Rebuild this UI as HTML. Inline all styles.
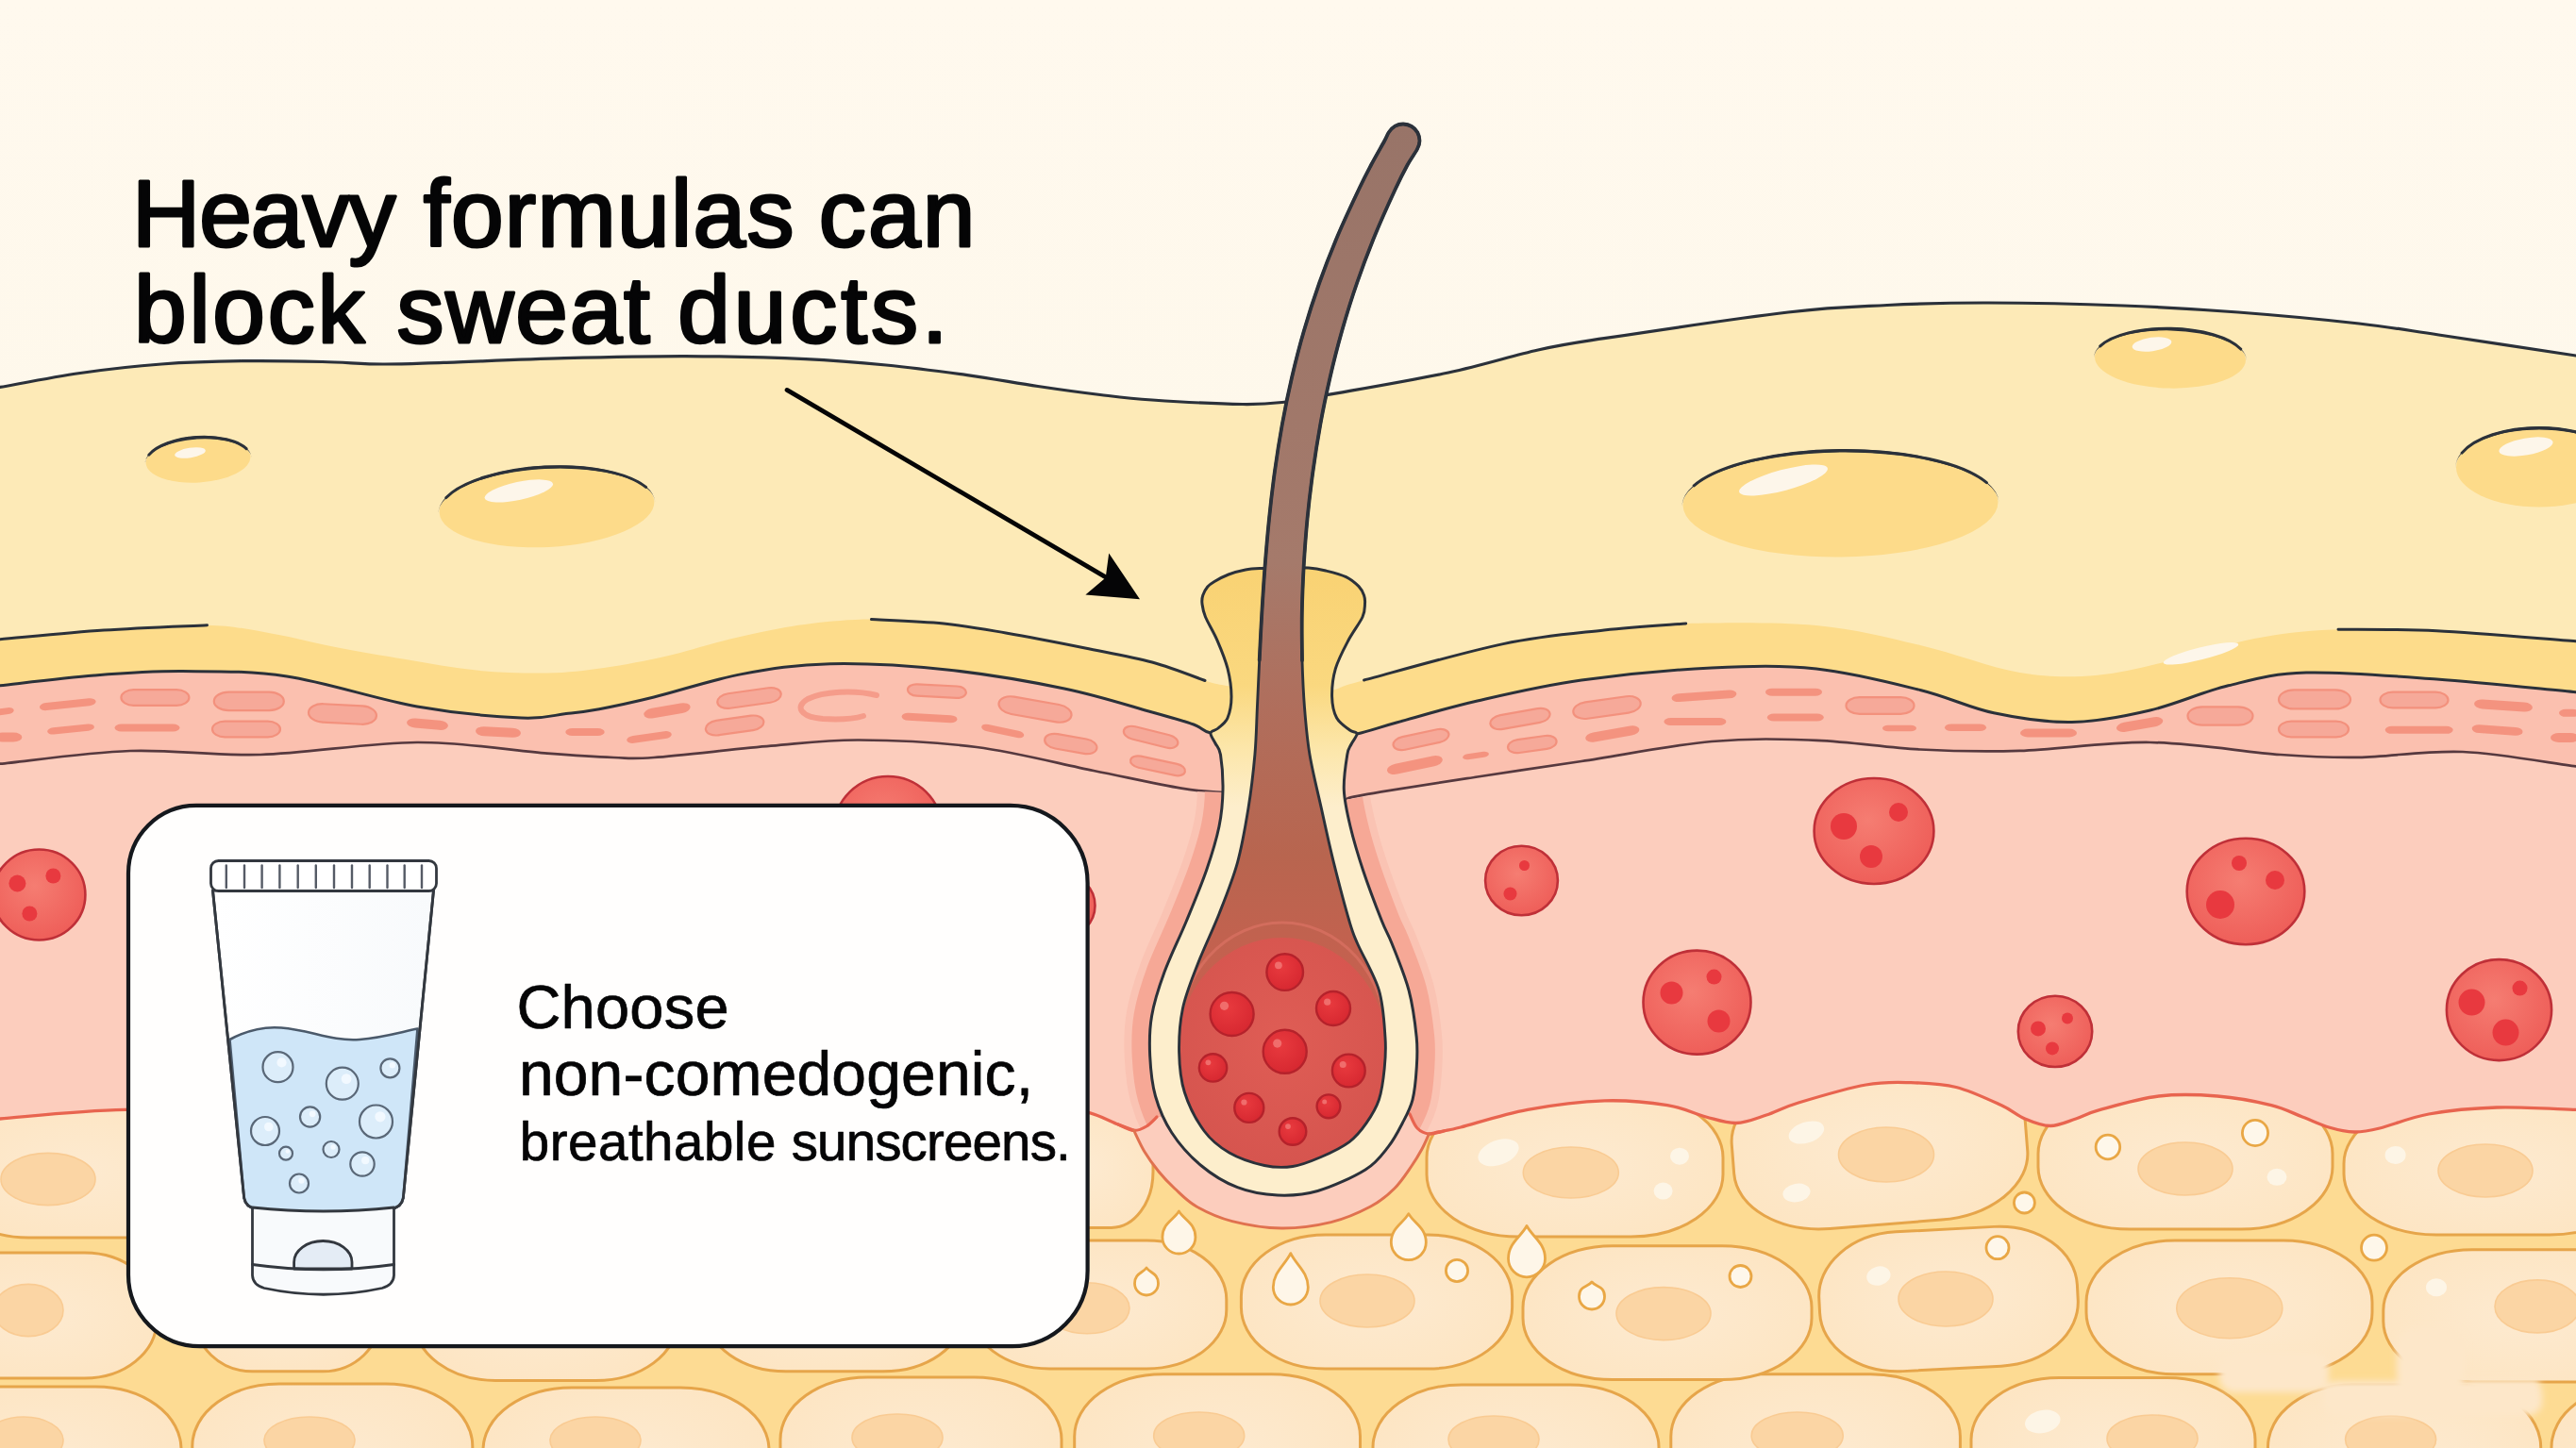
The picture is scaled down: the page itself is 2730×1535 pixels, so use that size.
<!DOCTYPE html>
<html lang="en">
<head>
<meta charset="utf-8">
<title>Heavy formulas can block sweat ducts</title>
<style>
html,body{margin:0;padding:0;background:#fdf8ec;}
body{width:2730px;height:1535px;overflow:hidden;}
svg{display:block;}
</style>
</head>
<body>
<svg width="2730" height="1535" viewBox="0 0 2730 1535">
<defs>
<linearGradient id="gBg" x1="0" y1="0" x2="0" y2="1"><stop offset="0" stop-color="#fff9ee"/><stop offset="0.3" stop-color="#fef8eb"/><stop offset="1" stop-color="#fdf6e6"/></linearGradient>
<linearGradient id="gSheath" gradientUnits="userSpaceOnUse" x1="0" y1="600" x2="0" y2="900"><stop offset="0" stop-color="#f9d273"/><stop offset="0.42" stop-color="#fad87f"/><stop offset="0.64" stop-color="#fce6a9"/><stop offset="0.85" stop-color="#fdeecc"/><stop offset="1" stop-color="#fdeecc"/></linearGradient>
<linearGradient id="gHair" gradientUnits="userSpaceOnUse" x1="0" y1="130" x2="0" y2="1240"><stop offset="0" stop-color="#987468"/><stop offset="0.42" stop-color="#a57a6b"/><stop offset="0.56" stop-color="#b06e5c"/><stop offset="0.70" stop-color="#b8654f"/><stop offset="0.80" stop-color="#c4614f"/><stop offset="1" stop-color="#d85850"/></linearGradient>
<radialGradient id="gBulb" cx="0.5" cy="0.45" r="0.6"><stop offset="0" stop-color="#df5d55"/><stop offset="1" stop-color="#d5544e"/></radialGradient>
<radialGradient id="gRed" cx="0.45" cy="0.4" r="0.65"><stop offset="0" stop-color="#f57d72"/><stop offset="1" stop-color="#ee5c57"/></radialGradient>
<radialGradient id="gDot" cx="0.4" cy="0.35" r="0.7"><stop offset="0" stop-color="#e83a3e"/><stop offset="1" stop-color="#d62730"/></radialGradient>
<radialGradient id="gCell" cx="0.5" cy="0.5" r="0.7"><stop offset="0" stop-color="#fdead0"/><stop offset="1" stop-color="#fde4c0"/></radialGradient>
<linearGradient id="gTube" x1="0" y1="0" x2="1" y2="0"><stop offset="0" stop-color="#ffffff"/><stop offset="1" stop-color="#f8fafc"/></linearGradient>
<linearGradient id="gHalo1" gradientUnits="userSpaceOnUse" x1="0" y1="840" x2="0" y2="1290"><stop offset="0" stop-color="#fac4b8"/><stop offset="0.72" stop-color="#fac4b8"/><stop offset="0.9" stop-color="#fccfc3"/><stop offset="1" stop-color="#fccfc3"/></linearGradient>
<linearGradient id="gHalo2" gradientUnits="userSpaceOnUse" x1="0" y1="840" x2="0" y2="1290"><stop offset="0" stop-color="#f7b2a7"/><stop offset="0.70" stop-color="#f7b2a7"/><stop offset="0.9" stop-color="#fbc9bd"/><stop offset="1" stop-color="#fbcabe"/></linearGradient>
<filter id="blur8" x="-20%" y="-20%" width="140%" height="140%"><feGaussianBlur stdDeviation="8"/></filter>
<filter id="blur14" x="-30%" y="-30%" width="160%" height="160%"><feGaussianBlur stdDeviation="14"/></filter>
<clipPath id="clipInner"><path d="M1472 140C1470.1 142.7 1470.1 144.2 1466.9 150C1463.7 155.8 1457.4 166.7 1453 175C1448.6 183.3 1446.3 187.5 1440.4 200C1434.5 212.5 1424.6 233.3 1417.6 250C1410.6 266.7 1404.1 283.3 1398.2 300C1392.3 316.7 1386.9 333.3 1382.1 350C1377.2 366.7 1373 383.3 1369.1 400C1365.2 416.7 1361.8 433.3 1358.8 450C1355.8 466.7 1353.2 483.3 1350.9 500C1348.6 516.7 1346.7 533.3 1345 550C1343.3 566.7 1341.9 583.3 1340.6 600C1339.3 616.7 1338.3 633.3 1337.3 650C1336.3 666.7 1335.5 683.3 1334.7 700C1333.9 716.7 1333.2 733.3 1332.4 750C1331.6 766.7 1331.5 782.2 1329.9 800C1328.3 817.8 1326.1 837.5 1323 856.6C1319.9 875.7 1316.6 895.9 1311.4 914.6C1306.2 933.3 1299.1 950.7 1292 968.7C1284.9 986.7 1275.4 1006 1269 1022.8C1262.6 1039.5 1256.6 1053.7 1253.4 1069.2C1250.2 1084.7 1249.3 1100.8 1249.6 1115.6C1249.9 1130.4 1251 1144.1 1255.4 1158C1259.8 1171.9 1268.3 1188.3 1276.2 1199C1284.1 1209.7 1292.2 1215.9 1302.8 1222C1313.4 1228.1 1328.8 1233.1 1340 1235.5C1351.2 1237.9 1360 1238 1370 1236.5C1380 1235 1390 1230.8 1400 1226.5C1410 1222.2 1421.9 1216.6 1429.9 1210.6C1437.9 1204.6 1442.8 1198.2 1448 1190.7C1453.2 1183.2 1458.2 1175.5 1461.4 1165.8C1464.6 1156.1 1466.1 1143.8 1467.2 1132.7C1468.3 1121.7 1469 1113.3 1468 1099.5C1467 1085.7 1466.3 1066.3 1461.4 1049.7C1456.5 1033.1 1443.7 1012.2 1438.5 1000C1433.3 987.8 1434.2 990.7 1430 976.5C1425.8 962.3 1418.5 934.6 1413.5 914.6C1408.5 894.6 1404.5 875.7 1400.3 856.6C1396 837.5 1391 817.8 1388 800C1385 782.2 1383.8 766.7 1382.5 750C1381.2 733.3 1380.5 716.7 1380 700C1379.5 683.3 1379.5 666.7 1379.8 650C1380.1 633.3 1380.8 616.7 1381.7 600C1382.7 583.3 1383.9 566.7 1385.5 550C1387.1 533.3 1389.1 516.7 1391.4 500C1393.7 483.3 1396.3 466.7 1399.3 450C1402.3 433.3 1405.8 416.7 1409.6 400C1413.4 383.3 1417.7 366.7 1422.4 350C1427.2 333.3 1432.3 316.7 1438.1 300C1443.8 283.3 1450.1 266.7 1456.9 250C1463.7 233.3 1473.2 212.5 1479 200C1484.8 187.5 1487.7 182 1491.5 175C1495.3 168 1499.8 162.3 1502 158C1504.2 153.7 1504.5 152.2 1504.5 149.3C1504.5 146.4 1503.7 143.1 1502.3 140.5C1500.9 137.9 1498.5 135.5 1496 134C1493.5 132.5 1490.2 131.6 1487.3 131.5C1484.4 131.4 1481 132.3 1478.5 133.7C1476 135.1 1473.9 137.3 1472 140Z"/></clipPath>
</defs>
<rect width="2730" height="1535" fill="url(#gBg)"/>
<path d="M-20 414C-16.7 413.4 -17.5 413.6 0 410.5C17.5 407.4 56.5 399.6 85 395.5C113.5 391.4 142.5 388.1 171 386C199.5 383.9 227.6 383.1 256 382.7C284.4 382.3 316.7 382.9 341.6 383.5C366.5 384.1 384.2 385.9 405.6 386C427 386.1 437.9 385.4 470 384.4C502.1 383.3 555.3 380.8 598 379.7C640.7 378.6 683.3 377.5 726 377.6C768.7 377.8 818.5 379 854 380.6C889.5 382.2 910.5 384.2 939 387C967.5 389.8 998.2 393.9 1025 397.6C1051.8 401.4 1076.5 406 1100 409.5C1123.5 413 1145.8 416.1 1166 418.5C1186.2 420.9 1195.8 422.3 1221 424C1246.2 425.7 1293.3 428.2 1317 428.5C1340.7 428.8 1348.4 427.6 1363 426C1377.6 424.4 1375.9 424.2 1404.6 419C1433.3 413.8 1497.4 403 1535 395C1572.6 387 1602.5 377.1 1630 371C1657.5 364.9 1655.8 365.4 1700 358.7C1744.2 352 1845 336.9 1895 331C1945 325.1 1964.7 325.2 2000 323.5C2035.3 321.8 2065.3 320.9 2107 321C2148.7 321.1 2205.8 322.3 2250 324C2294.2 325.7 2330.3 327.8 2372 331C2413.7 334.2 2464.6 339 2500 343C2535.4 347 2546.2 349.3 2584.5 355C2622.8 360.7 2702.4 372.8 2730 377C2757.6 381.2 2746.7 379.5 2750 380L2750 900 L-20 900Z" fill="#fdeab7"/>
<path d="M-20 414C-16.7 413.4 -17.5 413.6 0 410.5C17.5 407.4 56.5 399.6 85 395.5C113.5 391.4 142.5 388.1 171 386C199.5 383.9 227.6 383.1 256 382.7C284.4 382.3 316.7 382.9 341.6 383.5C366.5 384.1 384.2 385.9 405.6 386C427 386.1 437.9 385.4 470 384.4C502.1 383.3 555.3 380.8 598 379.7C640.7 378.6 683.3 377.5 726 377.6C768.7 377.8 818.5 379 854 380.6C889.5 382.2 910.5 384.2 939 387C967.5 389.8 998.2 393.9 1025 397.6C1051.8 401.4 1076.5 406 1100 409.5C1123.5 413 1145.8 416.1 1166 418.5C1186.2 420.9 1195.8 422.3 1221 424C1246.2 425.7 1293.3 428.2 1317 428.5C1340.7 428.8 1348.4 427.6 1363 426C1377.6 424.4 1375.9 424.2 1404.6 419C1433.3 413.8 1497.4 403 1535 395C1572.6 387 1602.5 377.1 1630 371C1657.5 364.9 1655.8 365.4 1700 358.7C1744.2 352 1845 336.9 1895 331C1945 325.1 1964.7 325.2 2000 323.5C2035.3 321.8 2065.3 320.9 2107 321C2148.7 321.1 2205.8 322.3 2250 324C2294.2 325.7 2330.3 327.8 2372 331C2413.7 334.2 2464.6 339 2500 343C2535.4 347 2546.2 349.3 2584.5 355C2622.8 360.7 2702.4 372.8 2730 377C2757.6 381.2 2746.7 379.5 2750 380" fill="none" stroke="#2b313a" stroke-width="3.2" stroke-linecap="round"/>
<g transform="rotate(-3.6 210 487.5)">
<ellipse cx="210" cy="487.5" rx="55.5" ry="24" fill="#fddb8a"/>
<path d="M153.5 488.5 A56.5 26.2 0 0 1 266.5 488.5 A56.5 23 0 0 0 153.5 488.5 Z" fill="#2b313a"/>
<path d="M158.3 478.9 A55.8 24.6 0 0 1 261.7 478.9" fill="none" stroke="#2b313a" stroke-width="3" stroke-linecap="round"/>
</g>
<ellipse cx="201.5" cy="480" rx="16.5" ry="5.2" fill="#fdf6ea" transform="rotate(-9 201.5 480)"/>
<g transform="rotate(-3 579.5 537.5)">
<ellipse cx="579.5" cy="537.5" rx="114" ry="42.5" fill="#fddb8a"/>
<path d="M464.5 538.5 A115 44.7 0 0 1 694.5 538.5 A115 41.5 0 0 0 464.5 538.5 Z" fill="#2b313a"/>
<path d="M473.5 522 A114.3 43.1 0 0 1 685.5 522" fill="none" stroke="#2b313a" stroke-width="3" stroke-linecap="round"/>
</g>
<ellipse cx="549.8" cy="520.4" rx="37" ry="9.5" fill="#fdf6ea" transform="rotate(-12 549.8 520.4)"/>
<g transform="rotate(-0.6 1950.5 534)">
<ellipse cx="1950.5" cy="534" rx="167" ry="56.5" fill="#fddb8a"/>
<path d="M1782.5 535 A168 58.7 0 0 1 2118.5 535 A168 55.5 0 0 0 1782.5 535 Z" fill="#2b313a"/>
<path d="M1795.4 513.2 A167.3 57.1 0 0 1 2105.6 513.2" fill="none" stroke="#2b313a" stroke-width="3" stroke-linecap="round"/>
</g>
<ellipse cx="1890" cy="509" rx="48.5" ry="11" fill="#fdf6ea" transform="rotate(-15 1890 509)"/>
<g transform="rotate(1.2 2300 380)">
<ellipse cx="2300" cy="380" rx="80" ry="31.6" fill="#fddb8a"/>
<path d="M2219 381 A81 33.8 0 0 1 2381 381 A81 30.6 0 0 0 2219 381 Z" fill="#2b313a"/>
<path d="M2225.5 368.5 A80.3 32.2 0 0 1 2374.5 368.5" fill="none" stroke="#2b313a" stroke-width="3" stroke-linecap="round"/>
</g>
<ellipse cx="2280.5" cy="365" rx="21" ry="7.2" fill="#fdf6ea" transform="rotate(-8 2280.5 365)"/>
<g transform="rotate(0 2691 495.5)">
<ellipse cx="2691" cy="495.5" rx="88" ry="42" fill="#fddb8a"/>
<path d="M2602 496.5 A89 44.2 0 0 1 2780 496.5 A89 41 0 0 0 2602 496.5 Z" fill="#2b313a"/>
<path d="M2609.1 480.1 A88.3 42.6 0 0 1 2772.9 480.1" fill="none" stroke="#2b313a" stroke-width="3" stroke-linecap="round"/>
</g>
<ellipse cx="2677" cy="473.5" rx="29" ry="9" fill="#fdf6ea" transform="rotate(-10 2677 473.5)"/>
<path d="M-20 679.5C-16.7 679.2 -21.7 679.7 0 677.8C21.7 675.9 73.4 670.5 110 668C146.6 665.5 189.5 662 219.5 662.7C249.5 663.4 267.8 668.2 290 672C312.2 675.8 329.7 680.9 353 685.4C376.3 689.9 404.7 694.8 430 699C455.3 703.2 480 708.2 505 710.6C530 713 557.5 713.9 580 713.5C602.5 713.1 618.9 711 640 708C661.1 705 686.5 700 706.5 695.5C726.5 691 743.2 685.2 760 681C776.8 676.8 790.3 673.3 807 670C823.7 666.7 840.6 663.2 860 661C879.4 658.8 900.2 656.6 923.5 656.6C946.8 656.6 976.2 658.6 1000 661C1023.8 663.4 1041 666.7 1066 671C1091 675.3 1124.2 681.8 1150 687C1175.8 692.2 1199.8 696.2 1221 702C1242.2 707.8 1263.8 717.3 1277 721.5C1290.2 725.7 1292 725.4 1300 727C1308 728.6 1320.8 730.3 1325 731L1325 783C1318 782 1293 779.5 1283 777C1273 774.5 1275.3 771.7 1265 768C1254.7 764.3 1243.8 761.3 1221 755C1198.2 748.7 1164.2 737.5 1128 730C1091.8 722.5 1045.1 714.4 1003.7 710C962.3 705.6 915.8 702.9 879.5 703.7C843.2 704.5 817.1 708.7 786 714.6C754.9 720.5 718.2 732.8 693 739C667.8 745.2 650.5 748.8 635 751.7C619.5 754.6 613.8 755 600 756.5C586.2 758 578.8 762.2 552.5 761C526.2 759.8 483.4 756.3 442 749C400.6 741.7 345.5 723.2 304 717C262.5 710.8 227 711.8 193 711.6C159 711.4 132.2 713.5 100 716C67.8 718.5 20 724.6 0 726.8C-20 729 -16.7 728.6 -20 729Z" fill="#fddc8b"/>
<path d="M1392 737C1395.8 736 1406.1 733.7 1415 731C1423.9 728.3 1415.9 729.1 1445.6 721C1475.3 712.9 1550.6 691.4 1593 682.6C1635.4 673.8 1667.7 671.6 1700 668C1732.3 664.4 1749.2 661.8 1786.7 661C1824.2 660.2 1883.6 659.2 1925 663C1966.4 666.8 1999.1 675.7 2035 684C2070.9 692.3 2109.2 707.7 2140.5 713C2171.8 718.3 2195.4 718 2223 715.7C2250.6 713.4 2278.3 705.5 2306 699C2333.7 692.5 2361.3 682.3 2389 677C2416.7 671.7 2439.8 668.8 2472 667.4C2504.2 666 2539.5 666.7 2582.5 668.8C2625.5 670.9 2702.1 677.8 2730 679.8C2757.9 681.8 2746.7 680.8 2750 681L2750 735C2746.7 734.8 2757.9 736.2 2730 733.7C2702.1 731.2 2630.2 723.5 2582.5 720C2534.8 716.5 2480.8 711.9 2444 713C2407.2 714.1 2389.1 720.1 2361.5 726.8C2333.9 733.5 2306.2 746.5 2278.6 753C2251 759.5 2223.3 765 2195.7 765.5C2168.1 766 2139.8 761.5 2113 755.8C2086.2 750.1 2066.3 739.3 2035 731.5C2003.7 723.7 1961.8 712.9 1925 709C1888.2 705.1 1855.5 706 1814 708C1772.5 710 1717.4 715.2 1676 721C1634.6 726.8 1598.4 735.5 1565.7 743C1533 750.5 1501.3 760.2 1480 766C1458.7 771.8 1452.7 774.7 1438 778C1423.3 781.3 1399.7 784.7 1392 786Z" fill="#fddc8b"/>
<ellipse cx="2332.5" cy="692.8" rx="41" ry="6.5" fill="#fdf6ea" transform="rotate(-14 2332.5 692.8)"/>
<path d="M-20 729C-16.7 728.6 -20 729 0 726.8C20 724.6 67.8 718.5 100 716C132.2 713.5 159 711.4 193 711.6C227 711.8 262.5 710.8 304 717C345.5 723.2 400.6 741.7 442 749C483.4 756.3 526.2 759.8 552.5 761C578.8 762.2 586.2 758 600 756.5C613.8 755 619.5 754.6 635 751.7C650.5 748.8 667.8 745.2 693 739C718.2 732.8 754.9 720.5 786 714.6C817.1 708.7 843.2 704.5 879.5 703.7C915.8 702.9 962.3 705.6 1003.7 710C1045.1 714.4 1091.8 722.5 1128 730C1164.2 737.5 1198.2 748.7 1221 755C1243.8 761.3 1254.7 764.3 1265 768C1275.3 771.7 1273 774.5 1283 777C1293 779.5 1318 782 1325 783L1296 840C1288.7 839.3 1274.8 839.5 1252 835.7C1229.2 831.9 1195.2 824.3 1159 817C1122.8 809.7 1076.4 797.4 1035 792C993.6 786.6 946.8 784.7 910.5 784.5C874.2 784.3 853.2 787.6 817 790.7C780.8 793.8 720.8 801 693 803C665.2 805 668.8 803.7 650 803C631.2 802.3 614.7 801.3 580 798.6C545.3 795.9 492.7 786.8 442 787C391.3 787.2 326.7 798.5 276 800C225.3 801.5 184 794.4 138 796C92 797.6 26.3 807.2 0 809.7C-26.3 812.2 -16.7 810.8 -20 811Z" fill="#fbc0af"/>
<path d="M1392 786C1399.7 784.7 1423.3 781.3 1438 778C1452.7 774.7 1458.7 771.8 1480 766C1501.3 760.2 1533 750.5 1565.7 743C1598.4 735.5 1634.6 726.8 1676 721C1717.4 715.2 1772.5 710 1814 708C1855.5 706 1888.2 705.1 1925 709C1961.8 712.9 2003.7 723.7 2035 731.5C2066.3 739.3 2086.2 750.1 2113 755.8C2139.8 761.5 2168.1 766 2195.7 765.5C2223.3 765 2251 759.5 2278.6 753C2306.2 746.5 2333.9 733.5 2361.5 726.8C2389.1 720.1 2407.2 714.1 2444 713C2480.8 711.9 2534.8 716.5 2582.5 720C2630.2 723.5 2702.1 731.2 2730 733.7C2757.9 736.2 2746.7 734.8 2750 735L2750 814C2746.7 813.7 2753.3 815.2 2730 812.4C2706.7 809.6 2648.4 798.6 2610 797C2571.6 795.4 2531.8 802.3 2499.6 802.8C2467.4 803.3 2453.5 802.6 2416.7 800C2379.9 797.4 2324.6 787.7 2278.6 787C2232.6 786.3 2181.1 794.6 2140.5 795.9C2099.9 797.1 2070.9 796.4 2035 794.5C1999.1 792.6 1961.8 786.2 1925 784.8C1888.2 783.4 1855.5 782.3 1814 786C1772.5 789.7 1717.4 800.8 1676 807C1634.6 813.2 1604.4 817.5 1565.7 823.5C1527 829.5 1467.3 838.7 1444 842.8C1420.7 846.9 1429 847.1 1426 848Z" fill="#fbc0af"/>
<rect x="0" y="1140" width="2730" height="395" fill="#fddb93"/>
<rect x="-100" y="1470" width="292" height="150" rx="90.5" ry="66" fill="url(#gCell)" stroke="#e6a54a" stroke-width="3"/>
<ellipse cx="25" cy="1527" rx="42" ry="25" fill="#fbd5a4" stroke="#f9cb93" stroke-width="1.6"/>
<rect x="203.8" y="1467" width="297" height="153" rx="92.1" ry="66" fill="url(#gCell)" stroke="#e6a54a" stroke-width="3"/>
<ellipse cx="328" cy="1527" rx="48" ry="25" fill="#fbd5a4" stroke="#f9cb93" stroke-width="1.6"/>
<rect x="512" y="1471" width="303" height="149" rx="93.9" ry="66" fill="url(#gCell)" stroke="#e6a54a" stroke-width="3"/>
<ellipse cx="631" cy="1527" rx="48" ry="25" fill="#fbd5a4" stroke="#f9cb93" stroke-width="1.6"/>
<rect x="827" y="1460" width="298" height="160" rx="92.4" ry="66" fill="url(#gCell)" stroke="#e6a54a" stroke-width="3"/>
<ellipse cx="951" cy="1524" rx="48" ry="25" fill="#fbd5a4" stroke="#f9cb93" stroke-width="1.6"/>
<rect x="1138.7" y="1456.7" width="302.8" height="163.3" rx="93.9" ry="66" fill="url(#gCell)" stroke="#e6a54a" stroke-width="3"/>
<ellipse cx="1270.7" cy="1522" rx="48" ry="25" fill="#fbd5a4" stroke="#f9cb93" stroke-width="1.6"/>
<rect x="1455" y="1468" width="303" height="152" rx="93.9" ry="66" fill="url(#gCell)" stroke="#e6a54a" stroke-width="3"/>
<ellipse cx="1583" cy="1526" rx="48" ry="25" fill="#fbd5a4" stroke="#f9cb93" stroke-width="1.6"/>
<rect x="1770.8" y="1456.7" width="306.6" height="163.3" rx="95" ry="66" fill="url(#gCell)" stroke="#e6a54a" stroke-width="3"/>
<ellipse cx="1904.7" cy="1522" rx="48.5" ry="25" fill="#fbd5a4" stroke="#f9cb93" stroke-width="1.6"/>
<rect x="2089" y="1460.6" width="301" height="159.4" rx="93.3" ry="66" fill="url(#gCell)" stroke="#e6a54a" stroke-width="3"/>
<ellipse cx="2281" cy="1525" rx="48" ry="25" fill="#fbd5a4" stroke="#f9cb93" stroke-width="1.6"/>
<rect x="2403.5" y="1468" width="289.2" height="152" rx="89.7" ry="66" fill="url(#gCell)" stroke="#e6a54a" stroke-width="3"/>
<ellipse cx="2533.6" cy="1526" rx="48" ry="25" fill="#fbd5a4" stroke="#f9cb93" stroke-width="1.6"/>
<rect x="2704" y="1468" width="296" height="152" rx="91.8" ry="66" fill="url(#gCell)" stroke="#e6a54a" stroke-width="3"/>
<rect x="-80" y="1328" width="246" height="133" rx="76.3" ry="61.2" fill="url(#gCell)" stroke="#e6a54a" stroke-width="3"/>
<ellipse cx="30" cy="1389" rx="37" ry="27.6" fill="#fbd5a4" stroke="#f9cb93" stroke-width="1.6"/>
<rect x="205.7" y="1325" width="198" height="128.8" rx="61.4" ry="59.2" fill="url(#gCell)" stroke="#e6a54a" stroke-width="3"/>
<rect x="438.7" y="1325" width="279.3" height="138.5" rx="86.6" ry="63.7" fill="url(#gCell)" stroke="#e6a54a" stroke-width="3"/>
<rect x="749" y="1325" width="271" height="128.8" rx="84" ry="59.2" fill="url(#gCell)" stroke="#e6a54a" stroke-width="3"/>
<rect x="1028" y="1315" width="271.8" height="135.9" rx="84.3" ry="62.5" fill="url(#gCell)" stroke="#e6a54a" stroke-width="3"/>
<ellipse cx="1152" cy="1386.8" rx="45" ry="27" fill="#fbd5a4" stroke="#f9cb93" stroke-width="1.6"/>
<rect x="1315.4" y="1309" width="287.2" height="142" rx="89" ry="65.3" fill="url(#gCell)" stroke="#e6a54a" stroke-width="3"/>
<ellipse cx="1449" cy="1379" rx="50" ry="28" fill="#fbd5a4" stroke="#f9cb93" stroke-width="1.6"/>
<rect x="1614" y="1320.8" width="306" height="141.7" rx="94.9" ry="65.2" fill="url(#gCell)" stroke="#e6a54a" stroke-width="3"/>
<ellipse cx="1763" cy="1392.6" rx="50" ry="28" fill="#fbd5a4" stroke="#f9cb93" stroke-width="1.6"/>
<rect x="1928" y="1303" width="274" height="148" rx="84.9" ry="66" fill="url(#gCell)" stroke="#e6a54a" stroke-width="3" transform="rotate(-3 2065 1377)"/>
<ellipse cx="2062" cy="1377" rx="50" ry="29" fill="#fbd5a4" stroke="#f9cb93" stroke-width="1.6"/>
<rect x="2211" y="1315" width="303" height="141.7" rx="93.9" ry="65.2" fill="url(#gCell)" stroke="#e6a54a" stroke-width="3"/>
<ellipse cx="2362.8" cy="1386.8" rx="56" ry="32" fill="#fbd5a4" stroke="#f9cb93" stroke-width="1.6"/>
<rect x="2525.8" y="1324.7" width="304.2" height="140.3" rx="94.3" ry="64.5" fill="url(#gCell)" stroke="#e6a54a" stroke-width="3"/>
<ellipse cx="2689" cy="1384.9" rx="45" ry="28" fill="#fbd5a4" stroke="#f9cb93" stroke-width="1.6"/>
<rect x="-60" y="1170" width="290" height="142" rx="89.9" ry="65.3" fill="url(#gCell)" stroke="#e6a54a" stroke-width="3"/>
<ellipse cx="51" cy="1250" rx="50" ry="27.6" fill="#fbd5a4" stroke="#f9cb93" stroke-width="1.6"/>
<rect x="1080" y="1172" width="142" height="129.4" rx="44" ry="59.5" fill="url(#gCell)" stroke="#e6a54a" stroke-width="3"/>
<rect x="1512" y="1161" width="314" height="150" rx="97.3" ry="66" fill="url(#gCell)" stroke="#e6a54a" stroke-width="3"/>
<ellipse cx="1664.8" cy="1243" rx="50.5" ry="27" fill="#fbd5a4" stroke="#f9cb93" stroke-width="1.6"/>
<rect x="1836" y="1135" width="312" height="163" rx="96.7" ry="66" fill="url(#gCell)" stroke="#e6a54a" stroke-width="3" transform="rotate(-4.5 1992 1216.5)"/>
<ellipse cx="1999" cy="1224" rx="50.5" ry="29" fill="#fbd5a4" stroke="#f9cb93" stroke-width="1.6"/>
<rect x="2160" y="1157" width="312" height="146" rx="96.7" ry="66" fill="url(#gCell)" stroke="#e6a54a" stroke-width="3"/>
<ellipse cx="2316" cy="1239" rx="50" ry="28" fill="#fbd5a4" stroke="#f9cb93" stroke-width="1.6"/>
<rect x="2484" y="1169" width="316" height="140" rx="98" ry="64.4" fill="url(#gCell)" stroke="#e6a54a" stroke-width="3"/>
<ellipse cx="2634" cy="1241" rx="50" ry="28" fill="#fbd5a4" stroke="#f9cb93" stroke-width="1.6"/>
<path d="M1249.4 1284C1255 1293.3 1266.9 1296.6 1266.9 1311.5A17.5 17.5 0 0 1 1231.9 1311.5C1231.9 1296.6 1243.8 1293.3 1249.4 1284 Z" fill="#fef6e8" stroke="#e9a745" stroke-width="2.8" stroke-linejoin="round"/>
<path d="M1215 1344C1219 1349.6 1227.5 1349.9 1227.5 1360.5A12.5 12.5 0 0 1 1202.5 1360.5C1202.5 1349.9 1211 1349.6 1215 1344 Z" fill="#fef6e8" stroke="#e9a745" stroke-width="2.8" stroke-linejoin="round"/>
<path d="M1367.8 1328.6C1373.7 1340.8 1386.3 1348.8 1386.3 1364.5A18.5 18.5 0 0 1 1349.3 1364.5C1349.3 1348.8 1361.9 1340.8 1367.8 1328.6 Z" fill="#fef6e8" stroke="#e9a745" stroke-width="2.8" stroke-linejoin="round"/>
<path d="M1492.8 1286.6C1498.7 1297 1511.3 1301.4 1511.3 1317.1A18.5 18.5 0 0 1 1474.3 1317.1C1474.3 1301.4 1486.9 1297 1492.8 1286.6 Z" fill="#fef6e8" stroke="#e9a745" stroke-width="2.8" stroke-linejoin="round"/>
<path d="M1618 1299.5C1624.2 1311.3 1637.5 1317.7 1637.5 1334.3A19.5 19.5 0 0 1 1598.5 1334.3C1598.5 1317.7 1611.8 1311.3 1618 1299.5 Z" fill="#fef6e8" stroke="#e9a745" stroke-width="2.8" stroke-linejoin="round"/>
<path d="M1687 1359C1691.3 1364.3 1700.5 1363 1700.5 1374.5A13.5 13.5 0 0 1 1673.5 1374.5C1673.5 1363 1682.7 1364.3 1687 1359 Z" fill="#fef6e8" stroke="#e9a745" stroke-width="2.8" stroke-linejoin="round"/>
<circle cx="1544" cy="1347" r="11.6" fill="#fef7ea" stroke="#e9a745" stroke-width="2.8"/>
<circle cx="1844.5" cy="1353" r="11.5" fill="#fef7ea" stroke="#e9a745" stroke-width="2.8"/>
<circle cx="2233.9" cy="1216" r="12.8" fill="#fef7ea" stroke="#e9a745" stroke-width="2.8"/>
<circle cx="2390" cy="1201" r="13.6" fill="#fef7ea" stroke="#e9a745" stroke-width="2.8"/>
<circle cx="2145.4" cy="1275" r="11" fill="#fef7ea" stroke="#e9a745" stroke-width="2.8"/>
<circle cx="2117" cy="1322.7" r="12" fill="#fef7ea" stroke="#e9a745" stroke-width="2.8"/>
<circle cx="2516" cy="1322.7" r="13.5" fill="#fef7ea" stroke="#e9a745" stroke-width="2.8"/>
<ellipse cx="1588" cy="1221.8" rx="22.5" ry="13" fill="#fdf5e6" transform="rotate(-20 1588 1221.8)"/>
<ellipse cx="1780" cy="1225.7" rx="10" ry="9" fill="#fdf5e6" transform="rotate(0 1780 1225.7)"/>
<ellipse cx="1762.6" cy="1262.6" rx="10" ry="9" fill="#fdf5e6" transform="rotate(0 1762.6 1262.6)"/>
<ellipse cx="1914.4" cy="1200.5" rx="19.4" ry="11" fill="#fdf5e6" transform="rotate(-18 1914.4 1200.5)"/>
<ellipse cx="1904" cy="1264.5" rx="14.7" ry="9.7" fill="#fdf5e6" transform="rotate(-10 1904 1264.5)"/>
<ellipse cx="2413" cy="1247.8" rx="10.5" ry="9" fill="#fdf5e6" transform="rotate(0 2413 1247.8)"/>
<ellipse cx="1990.9" cy="1352.6" rx="12.8" ry="10" fill="#fdf5e6" transform="rotate(-15 1990.9 1352.6)"/>
<ellipse cx="2538.6" cy="1224.5" rx="11" ry="9.5" fill="#fdf5e6" transform="rotate(0 2538.6 1224.5)"/>
<ellipse cx="2582" cy="1364.7" rx="11" ry="9.5" fill="#fdf5e6" transform="rotate(0 2582 1364.7)"/>
<ellipse cx="2164.8" cy="1507" rx="19" ry="12" fill="#fdf5e6" transform="rotate(-12 2164.8 1507)"/>
<filter id="blur4" x="-10%" y="-30%" width="120%" height="160%"><feGaussianBlur stdDeviation="3.5"/></filter>
<g filter="url(#blur4)" fill="#fde7c9">
<rect x="2352" y="1434" width="116" height="42" rx="16"/>
<rect x="2462" y="1464" width="232" height="36" rx="14"/>
<rect x="2540" y="1408" width="72" height="66" rx="18"/>
<rect x="2612" y="1462" width="80" height="14" rx="6"/>
</g>
<path d="M-20 811C-16.7 810.8 -26.3 812.2 0 809.7C26.3 807.2 92 797.6 138 796C184 794.4 225.3 801.5 276 800C326.7 798.5 391.3 787.2 442 787C492.7 786.8 545.3 795.9 580 798.6C614.7 801.3 631.2 802.3 650 803C668.8 803.7 665.2 805 693 803C720.8 801 780.8 793.8 817 790.7C853.2 787.6 874.2 784.3 910.5 784.5C946.8 784.7 993.6 786.6 1035 792C1076.4 797.4 1122.8 809.7 1159 817C1195.2 824.3 1229.2 831.9 1252 835.7C1274.8 839.5 1283 839 1296 840C1309 841 1312.7 841.2 1330 842C1347.3 842.8 1384 844 1400 845C1416 846 1418.7 848.4 1426 848C1433.3 847.6 1420.7 846.9 1444 842.8C1467.3 838.7 1527 829.5 1565.7 823.5C1604.4 817.5 1634.6 813.2 1676 807C1717.4 800.8 1772.5 789.7 1814 786C1855.5 782.3 1888.2 783.4 1925 784.8C1961.8 786.2 1999.1 792.6 2035 794.5C2070.9 796.4 2099.9 797.1 2140.5 795.9C2181.1 794.6 2232.6 786.3 2278.6 787C2324.6 787.7 2379.9 797.4 2416.7 800C2453.5 802.6 2467.4 803.3 2499.6 802.8C2531.8 802.3 2571.6 795.4 2610 797C2648.4 798.6 2706.7 809.6 2730 812.4C2753.3 815.2 2746.7 813.7 2750 814L2750 1177C2746.7 1176.9 2747.3 1176.9 2730 1176.4C2712.7 1175.9 2672 1173.2 2646 1174C2620 1174.8 2594.7 1177.3 2574 1181C2553.3 1184.7 2535.2 1192.8 2522 1196C2508.8 1199.2 2504 1200.2 2495 1200C2486 1199.8 2477.2 1197.7 2468 1195C2458.8 1192.3 2450.2 1187.9 2440 1184C2429.8 1180.1 2422 1175.3 2407 1171.6C2392 1167.9 2369.9 1163.6 2350 1162C2330.1 1160.4 2308.5 1159.6 2287.8 1162C2267.1 1164.4 2240.4 1172.4 2225.8 1176.4C2211.2 1180.4 2208.8 1183.2 2200 1186C2191.2 1188.8 2182 1193.5 2173 1193.5C2164 1193.5 2154.7 1189.7 2146 1186C2137.3 1182.3 2132.9 1177.2 2120.7 1171.6C2108.5 1166 2088.9 1156.5 2073 1152.5C2057.1 1148.5 2040.9 1148.1 2025 1147.7C2009.1 1147.3 1997.3 1146.5 1977.5 1150C1957.7 1153.5 1923.6 1163.7 1906 1169C1888.4 1174.3 1883 1178.4 1872 1182C1861 1185.6 1850.7 1190.2 1840 1190.5C1829.3 1190.8 1820.2 1187.2 1808 1184C1795.8 1180.8 1784.9 1174.4 1767 1171.6C1749.1 1168.8 1725.2 1166.1 1700.5 1166.9C1675.8 1167.7 1644.4 1171.7 1619 1176.4C1593.6 1181.1 1562.5 1191.3 1548 1195C1533.5 1198.7 1537.6 1197.3 1532 1198.5C1526.4 1199.7 1518.7 1198.8 1514.5 1202C1510.3 1205.2 1510.1 1212.3 1507 1218C1503.9 1223.7 1500.9 1229 1496 1236C1491.1 1243 1485 1252.8 1477.7 1260C1470.5 1267.2 1463.7 1273.1 1452.5 1279C1441.3 1284.9 1426.3 1291.8 1410.6 1295.6C1394.8 1299.4 1375.5 1302.2 1358 1302C1340.5 1301.8 1320.8 1298.4 1305.8 1294.6C1290.8 1290.8 1278.1 1284.8 1268 1279C1257.9 1273.2 1251.7 1266.2 1245 1260C1238.3 1253.8 1233.3 1248.5 1228 1242C1222.7 1235.5 1217.4 1228.3 1213 1221C1208.6 1213.7 1206.4 1203.2 1201.7 1198.4C1197 1193.6 1193.6 1195.3 1185 1192C1176.4 1188.7 1164.2 1181.3 1150 1178.6C1135.8 1175.9 1141.7 1175.8 1100 1176C1058.3 1176.2 983.3 1180 900 1180C816.7 1180 700 1176 600 1176C500 1176 377.9 1179.9 300 1180C222.1 1180.1 182.6 1175.4 132.6 1176.4C82.6 1177.4 25.4 1184.1 0 1186C-25.4 1187.9 -16.7 1187.7 -20 1188Z" fill="#fccdbd"/>
<path d="M-20 1188C-16.7 1187.7 -25.4 1187.9 0 1186C25.4 1184.1 82.6 1177.4 132.6 1176.4C182.6 1175.4 222.1 1180.1 300 1180C377.9 1179.9 500 1176 600 1176C700 1176 816.7 1180 900 1180C983.3 1180 1058.3 1176.2 1100 1176C1141.7 1175.8 1135.8 1175.9 1150 1178.6C1164.2 1181.3 1176.4 1188.7 1185 1192C1193.6 1195.3 1198.9 1197.3 1201.7 1198.4" fill="none" stroke="#e8644f" stroke-width="3.3" stroke-linecap="round" stroke-linejoin="round"/>
<path d="M1514.5 1202C1517.4 1201.4 1526.4 1199.7 1532 1198.5C1537.6 1197.3 1533.5 1198.7 1548 1195C1562.5 1191.3 1593.6 1181.1 1619 1176.4C1644.4 1171.7 1675.8 1167.7 1700.5 1166.9C1725.2 1166.1 1749.1 1168.8 1767 1171.6C1784.9 1174.4 1795.8 1180.8 1808 1184C1820.2 1187.2 1829.3 1190.8 1840 1190.5C1850.7 1190.2 1861 1185.6 1872 1182C1883 1178.4 1888.4 1174.3 1906 1169C1923.6 1163.7 1957.7 1153.5 1977.5 1150C1997.3 1146.5 2009.1 1147.3 2025 1147.7C2040.9 1148.1 2057.1 1148.5 2073 1152.5C2088.9 1156.5 2108.5 1166 2120.7 1171.6C2132.9 1177.2 2137.3 1182.3 2146 1186C2154.7 1189.7 2164 1193.5 2173 1193.5C2182 1193.5 2191.2 1188.8 2200 1186C2208.8 1183.2 2211.2 1180.4 2225.8 1176.4C2240.4 1172.4 2267.1 1164.4 2287.8 1162C2308.5 1159.6 2330.1 1160.4 2350 1162C2369.9 1163.6 2392 1167.9 2407 1171.6C2422 1175.3 2429.8 1180.1 2440 1184C2450.2 1187.9 2458.8 1192.3 2468 1195C2477.2 1197.7 2486 1199.8 2495 1200C2504 1200.2 2508.8 1199.2 2522 1196C2535.2 1192.8 2553.3 1184.7 2574 1181C2594.7 1177.3 2620 1174.8 2646 1174C2672 1173.2 2712.7 1175.9 2730 1176.4C2747.3 1176.9 2746.7 1176.9 2750 1177" fill="none" stroke="#e8644f" stroke-width="3.3" stroke-linecap="round" stroke-linejoin="round"/>
<rect x="-9.2" y="750.9" width="24" height="7" rx="6.3" ry="3.5" fill="#f4937f" transform="rotate(-8 2.8 754.4)"/>
<rect x="41.8" y="742.7" width="60" height="8" rx="7.2" ry="4" fill="#f4937f" transform="rotate(-6 71.8 746.7)"/>
<rect x="128.4" y="731.2" width="72" height="16.6" rx="13.3" ry="8.3" fill="#f6a999" stroke="#f3917d" stroke-width="2.2" transform="rotate(0 164.4 739.5)"/>
<rect x="226.8" y="733.7" width="74" height="19.4" rx="15.5" ry="9.7" fill="#f6a999" stroke="#f3917d" stroke-width="2.2" transform="rotate(0 263.8 743.4)"/>
<rect x="327" y="747.3" width="72" height="19.4" rx="15.5" ry="9.7" fill="#f6a999" stroke="#f3917d" stroke-width="2.2" transform="rotate(3 363 757)"/>
<rect x="431" y="762.7" width="44" height="10" rx="9" ry="5" fill="#f4937f" transform="rotate(5 453 767.7)"/>
<rect x="504" y="771" width="48" height="10" rx="9" ry="5" fill="#f4937f" transform="rotate(3 528 776)"/>
<rect x="599.3" y="772" width="41.4" height="8" rx="7.2" ry="4" fill="#f4937f" transform="rotate(0 620 776)"/>
<rect x="682" y="748.1" width="50" height="10.6" rx="9.5" ry="5.3" fill="#f4937f" transform="rotate(-10 707 753.4)"/>
<rect x="-6.7" y="776.5" width="30" height="10" rx="9" ry="5" fill="#f4937f" transform="rotate(0 8.3 781.5)"/>
<rect x="50" y="769.4" width="50" height="7.2" rx="6.5" ry="3.6" fill="#f4937f" transform="rotate(-6 75 773)"/>
<rect x="121.5" y="767.5" width="69" height="8" rx="7.2" ry="4" fill="#f4937f" transform="rotate(0 156 771.5)"/>
<rect x="225" y="764.7" width="72" height="16.6" rx="13.3" ry="8.3" fill="#f6a999" stroke="#f3917d" stroke-width="2.2" transform="rotate(0 261 773)"/>
<rect x="664" y="777.5" width="48" height="8" rx="7.2" ry="4" fill="#f4937f" transform="rotate(-8 688 781.5)"/>
<rect x="760" y="732.2" width="68" height="15.6" rx="12.5" ry="7.8" fill="#f6a999" stroke="#f3917d" stroke-width="2.2" transform="rotate(-8 794 740)"/>
<rect x="747.6" y="761.2" width="62" height="15.6" rx="12.5" ry="7.8" fill="#f6a999" stroke="#f3917d" stroke-width="2.2" transform="rotate(-8 778.6 769)"/>
<rect x="961.9" y="726.4" width="62" height="12.4" rx="9.9" ry="6.2" fill="#f6a999" stroke="#f3917d" stroke-width="2.2" transform="rotate(3 992.9 732.6)"/>
<rect x="955.5" y="757" width="59" height="8" rx="7.2" ry="4" fill="#f4937f" transform="rotate(3 985 761)"/>
<rect x="1058" y="742.7" width="78" height="18.6" rx="14.9" ry="9.3" fill="#f6a999" stroke="#f3917d" stroke-width="2.2" transform="rotate(10 1097 752)"/>
<rect x="1039.7" y="771.3" width="46" height="7.4" rx="6.7" ry="3.7" fill="#f4937f" transform="rotate(12 1062.7 775)"/>
<rect x="1106.8" y="780.7" width="56" height="15.6" rx="12.5" ry="7.8" fill="#f6a999" stroke="#f3917d" stroke-width="2.2" transform="rotate(10 1134.8 788.5)"/>
<rect x="1190.1" y="774.6" width="59" height="13.6" rx="10.9" ry="6.8" fill="#f6a999" stroke="#f3917d" stroke-width="2.2" transform="rotate(14 1219.6 781.4)"/>
<rect x="1197.5" y="805.6" width="59" height="12.4" rx="9.9" ry="6.2" fill="#f6a999" stroke="#f3917d" stroke-width="2.2" transform="rotate(12 1227 811.8)"/>
<rect x="1476" y="777" width="60" height="14" rx="11.2" ry="7" fill="#f6a999" stroke="#f3917d" stroke-width="2.2" transform="rotate(-12 1506 784)"/>
<rect x="1469.4" y="805.5" width="60" height="11" rx="9.9" ry="5.5" fill="#f4937f" transform="rotate(-12 1499.4 811)"/>
<rect x="1550" y="798" width="28" height="6" rx="5.4" ry="3" fill="#f4937f" transform="rotate(-8 1564 801)"/>
<rect x="1579" y="754.5" width="64" height="15" rx="12" ry="7.5" fill="#f6a999" stroke="#f3917d" stroke-width="2.2" transform="rotate(-10 1611 762)"/>
<rect x="1597.8" y="782" width="52" height="14" rx="11.2" ry="7" fill="#f6a999" stroke="#f3917d" stroke-width="2.2" transform="rotate(-8 1623.8 789)"/>
<rect x="1667" y="741.2" width="72" height="17.6" rx="14.1" ry="8.8" fill="#f6a999" stroke="#f3917d" stroke-width="2.2" transform="rotate(-8 1703 750)"/>
<rect x="1679.8" y="773" width="58" height="10" rx="9" ry="5" fill="#f4937f" transform="rotate(-10 1708.8 778)"/>
<rect x="1771.5" y="733.4" width="69" height="8.8" rx="7.9" ry="4.4" fill="#f4937f" transform="rotate(-4 1806 737.8)"/>
<rect x="1763.4" y="761" width="66" height="8" rx="7.2" ry="4" fill="#f4937f" transform="rotate(0 1796.4 765)"/>
<rect x="1871" y="729.7" width="60" height="8" rx="7.2" ry="4" fill="#f4937f" transform="rotate(0 1901 733.7)"/>
<rect x="1872.8" y="756.5" width="60" height="8" rx="7.2" ry="4" fill="#f4937f" transform="rotate(0 1902.8 760.5)"/>
<rect x="1956.5" y="739.2" width="72" height="17.6" rx="14.1" ry="8.8" fill="#f6a999" stroke="#f3917d" stroke-width="2.2" transform="rotate(0 1992.5 748)"/>
<rect x="1995" y="768.7" width="36" height="6.6" rx="5.9" ry="3.3" fill="#f4937f" transform="rotate(0 2013 772)"/>
<rect x="2061" y="767.5" width="44" height="7.6" rx="6.8" ry="3.8" fill="#f4937f" transform="rotate(0 2083 771.3)"/>
<rect x="2141" y="772.6" width="60" height="8.8" rx="7.9" ry="4.4" fill="#f4937f" transform="rotate(0 2171 777)"/>
<rect x="2242.6" y="763" width="50" height="10" rx="9" ry="5" fill="#f4937f" transform="rotate(-10 2267.6 768)"/>
<rect x="2318.5" y="749.3" width="69" height="19.4" rx="15.5" ry="9.7" fill="#f6a999" stroke="#f3917d" stroke-width="2.2" transform="rotate(0 2353 759)"/>
<rect x="2415" y="731.4" width="76" height="20" rx="16" ry="10" fill="#f6a999" stroke="#f3917d" stroke-width="2.2" transform="rotate(0 2453 741.4)"/>
<rect x="2415" y="764.7" width="74" height="16.6" rx="13.3" ry="8.3" fill="#f6a999" stroke="#f3917d" stroke-width="2.2" transform="rotate(0 2452 773)"/>
<rect x="2522.5" y="733.7" width="72" height="16.6" rx="13.3" ry="8.3" fill="#f6a999" stroke="#f3917d" stroke-width="2.2" transform="rotate(0 2558.5 742)"/>
<rect x="2527.7" y="769.8" width="72" height="8" rx="7.2" ry="4" fill="#f4937f" transform="rotate(0 2563.7 773.8)"/>
<rect x="2622" y="743" width="62" height="10" rx="9" ry="5" fill="#f4937f" transform="rotate(4 2653 748)"/>
<rect x="2619.6" y="769.6" width="54" height="8.8" rx="7.9" ry="4.4" fill="#f4937f" transform="rotate(4 2646.6 774)"/>
<rect x="2712" y="751.8" width="22" height="8" rx="7.2" ry="4" fill="#f4937f" transform="rotate(0 2723 755.8)"/>
<rect x="2703" y="777" width="30" height="10" rx="9" ry="5" fill="#f4937f" transform="rotate(0 2718 782)"/>
<path d="M929 737 C905 731 872 733 856 741 C842 749 848 760 872 762 C890 763 905 762 915 759" fill="none" stroke="#f59c8a" stroke-width="6" stroke-linecap="round"/>
<path d="M-20 729C-16.7 728.6 -20 729 0 726.8C20 724.6 67.8 718.5 100 716C132.2 713.5 159 711.4 193 711.6C227 711.8 262.5 710.8 304 717C345.5 723.2 400.6 741.7 442 749C483.4 756.3 526.2 759.8 552.5 761C578.8 762.2 586.2 758 600 756.5C613.8 755 619.5 754.6 635 751.7C650.5 748.8 667.8 745.2 693 739C718.2 732.8 754.9 720.5 786 714.6C817.1 708.7 843.2 704.5 879.5 703.7C915.8 702.9 962.3 705.6 1003.7 710C1045.1 714.4 1091.8 722.5 1128 730C1164.2 737.5 1198.2 748.7 1221 755C1243.8 761.3 1254.7 764.3 1265 768C1275.3 771.7 1273 774.5 1283 777C1293 779.5 1318 782 1325 783" fill="none" stroke="#2b313a" stroke-width="3" stroke-linecap="round"/>
<path d="M1392 786C1399.7 784.7 1423.3 781.3 1438 778C1452.7 774.7 1458.7 771.8 1480 766C1501.3 760.2 1533 750.5 1565.7 743C1598.4 735.5 1634.6 726.8 1676 721C1717.4 715.2 1772.5 710 1814 708C1855.5 706 1888.2 705.1 1925 709C1961.8 712.9 2003.7 723.7 2035 731.5C2066.3 739.3 2086.2 750.1 2113 755.8C2139.8 761.5 2168.1 766 2195.7 765.5C2223.3 765 2251 759.5 2278.6 753C2306.2 746.5 2333.9 733.5 2361.5 726.8C2389.1 720.1 2407.2 714.1 2444 713C2480.8 711.9 2534.8 716.5 2582.5 720C2630.2 723.5 2702.1 731.2 2730 733.7C2757.9 736.2 2746.7 734.8 2750 735" fill="none" stroke="#2b313a" stroke-width="3" stroke-linecap="round"/>
<path d="M-20 811C-16.7 810.8 -26.3 812.2 0 809.7C26.3 807.2 92 797.6 138 796C184 794.4 225.3 801.5 276 800C326.7 798.5 391.3 787.2 442 787C492.7 786.8 545.3 795.9 580 798.6C614.7 801.3 631.2 802.3 650 803C668.8 803.7 665.2 805 693 803C720.8 801 780.8 793.8 817 790.7C853.2 787.6 874.2 784.3 910.5 784.5C946.8 784.7 993.6 786.6 1035 792C1076.4 797.4 1122.8 809.7 1159 817C1195.2 824.3 1229.2 831.9 1252 835.7C1274.8 839.5 1288.7 839.3 1296 840" fill="none" stroke="#56393f" stroke-width="2.7" stroke-linecap="round"/>
<path d="M1426 848C1429 847.1 1420.7 846.9 1444 842.8C1467.3 838.7 1527 829.5 1565.7 823.5C1604.4 817.5 1634.6 813.2 1676 807C1717.4 800.8 1772.5 789.7 1814 786C1855.5 782.3 1888.2 783.4 1925 784.8C1961.8 786.2 1999.1 792.6 2035 794.5C2070.9 796.4 2099.9 797.1 2140.5 795.9C2181.1 794.6 2232.6 786.3 2278.6 787C2324.6 787.7 2379.9 797.4 2416.7 800C2453.5 802.6 2467.4 803.3 2499.6 802.8C2531.8 802.3 2571.6 795.4 2610 797C2648.4 798.6 2706.7 809.6 2730 812.4C2753.3 815.2 2746.7 813.7 2750 814" fill="none" stroke="#56393f" stroke-width="2.7" stroke-linecap="round"/>
<path d="M-20 679.5C-16.7 679.2 -21.7 679.7 0 677.8C21.7 675.9 73.4 670.5 110 668C146.6 665.5 201.2 663.6 219.5 662.7" fill="none" stroke="#2b313a" stroke-width="3" stroke-linecap="round"/>
<path d="M923.5 656.6C936.2 657.3 976.2 658.6 1000 661C1023.8 663.4 1041 666.7 1066 671C1091 675.3 1124.2 681.8 1150 687C1175.8 692.2 1199.8 696.2 1221 702C1242.2 707.8 1267.7 718.2 1277 721.5" fill="none" stroke="#2b313a" stroke-width="3" stroke-linecap="round"/>
<path d="M1445.6 721C1470.2 714.6 1550.6 691.4 1593 682.6C1635.4 673.8 1667.7 671.6 1700 668C1732.3 664.4 1772.2 662.2 1786.7 661" fill="none" stroke="#2b313a" stroke-width="3" stroke-linecap="round"/>
<path d="M2478 667.2C2495.4 667.5 2540.5 666.7 2582.5 668.8C2624.5 670.9 2702.1 677.8 2730 679.8C2757.9 681.8 2746.7 680.8 2750 681" fill="none" stroke="#2b313a" stroke-width="3" stroke-linecap="round"/>
<ellipse cx="41.4" cy="948.5" rx="49" ry="48" fill="url(#gRed)" stroke="#bf3038" stroke-width="2.6"/>
<circle cx="18.4" cy="936.5" r="9" fill="#e8393f"/>
<circle cx="56.4" cy="928.5" r="8" fill="#e8393f"/>
<circle cx="31.4" cy="968.5" r="8" fill="#e8393f"/>
<ellipse cx="941" cy="879" rx="57" ry="56" fill="url(#gRed)" stroke="#bf3038" stroke-width="2.6"/>
<circle cx="953" cy="873" r="9" fill="#e8393f"/>
<circle cx="921" cy="889" r="8" fill="#e8393f"/>
<ellipse cx="1127.5" cy="960" rx="33" ry="33" fill="url(#gRed)" stroke="#bf3038" stroke-width="2.6"/>
<ellipse cx="1612.5" cy="933.5" rx="38.4" ry="36.8" fill="url(#gRed)" stroke="#bf3038" stroke-width="2.6"/>
<circle cx="1615.5" cy="917.5" r="5.5" fill="#e8393f"/>
<circle cx="1600.5" cy="947.5" r="7" fill="#e8393f"/>
<ellipse cx="1986" cy="881" rx="63.4" ry="56" fill="url(#gRed)" stroke="#bf3038" stroke-width="2.6"/>
<circle cx="1954" cy="876" r="14" fill="#e8393f"/>
<circle cx="2012" cy="861" r="10" fill="#e8393f"/>
<circle cx="1983" cy="908" r="12" fill="#e8393f"/>
<ellipse cx="2380" cy="945" rx="62.3" ry="56.2" fill="url(#gRed)" stroke="#bf3038" stroke-width="2.6"/>
<circle cx="2373" cy="915" r="8" fill="#e8393f"/>
<circle cx="2411" cy="933" r="10" fill="#e8393f"/>
<circle cx="2353" cy="959" r="15" fill="#e8393f"/>
<ellipse cx="1798.5" cy="1062.6" rx="57" ry="55" fill="url(#gRed)" stroke="#bf3038" stroke-width="2.6"/>
<circle cx="1771.5" cy="1052.6" r="12" fill="#e8393f"/>
<circle cx="1816.5" cy="1035.6" r="8" fill="#e8393f"/>
<circle cx="1821.5" cy="1082.6" r="12" fill="#e8393f"/>
<ellipse cx="2178" cy="1093.4" rx="39.2" ry="37.6" fill="url(#gRed)" stroke="#bf3038" stroke-width="2.6"/>
<circle cx="2160" cy="1090.4" r="8" fill="#e8393f"/>
<circle cx="2191" cy="1079.4" r="6" fill="#e8393f"/>
<circle cx="2175" cy="1111.4" r="7" fill="#e8393f"/>
<ellipse cx="2648.5" cy="1070.6" rx="55.6" ry="53.5" fill="url(#gRed)" stroke="#bf3038" stroke-width="2.6"/>
<circle cx="2619.5" cy="1062.6" r="14" fill="#e8393f"/>
<circle cx="2670.5" cy="1047.6" r="8" fill="#e8393f"/>
<circle cx="2655.5" cy="1094.6" r="14" fill="#e8393f"/>
<clipPath id="clipHalo"><path d="M1150 836 L1296 840 L1426 848 L1600 818 L1600 1172 L1569 1181 L1532 1198.5 L1514.5 1202 L1502 1196 L1494 1181 L1470 1181 L1250 1184 L1226 1184 L1215 1194 L1201.7 1198.4 L1185 1192 L1150 1178.6 Z"/></clipPath>
<g clip-path="url(#clipHalo)">
<path d="M1360 602C1351.7 602.1 1343.7 602.2 1337 602.5C1330.3 602.8 1325.8 602.9 1320 604C1314.2 605.1 1307.5 606.9 1302 609C1296.5 611.1 1290.7 614.3 1287 616.5C1283.3 618.7 1281.8 619.6 1279.8 622C1277.8 624.4 1275.8 628 1274.8 631C1273.8 634 1273.5 636.2 1274 640C1274.5 643.8 1274.8 647.5 1277.5 654C1280.2 660.5 1286.1 669.7 1290 678.8C1293.9 687.9 1298.5 698.8 1301 708.7C1303.5 718.7 1305 729.8 1305 738.5C1305 747.2 1303.3 755.4 1301 761C1298.7 766.6 1294 769.3 1291 772C1288 774.7 1283.5 774.3 1283 777C1282.5 779.7 1286.2 784.2 1288 788C1289.8 791.8 1292.2 791.8 1293.5 800C1294.8 808.2 1296.2 824.3 1296 837C1295.8 849.7 1294.9 861.8 1292 876C1289.1 890.2 1284.4 905.6 1278.6 922.4C1272.8 939.1 1264.7 958.5 1257.3 976.5C1249.9 994.5 1240.1 1013.8 1234 1030.6C1227.9 1047.3 1223.1 1062.2 1220.6 1077C1218 1091.8 1218 1105.3 1218.7 1119.5C1219.4 1133.7 1220.7 1148.5 1224.5 1162C1228.3 1175.5 1233.8 1188.5 1241.8 1200.7C1249.8 1213 1261.2 1225.8 1272.8 1235.5C1284.4 1245.2 1297.9 1253.5 1311.4 1258.7C1324.9 1264 1339.8 1266.4 1354 1267C1368.2 1267.6 1381 1267 1396.5 1262.5C1412 1258 1434.5 1247.8 1447 1240C1459.5 1232.2 1464.8 1223.8 1471.3 1215.6C1477.8 1207.4 1481.9 1199 1486.2 1190.7C1490.5 1182.4 1494.5 1175.5 1497 1165.8C1499.5 1156.1 1500.5 1143.8 1501.2 1132.7C1501.9 1121.7 1502.6 1113.3 1501.2 1099.5C1499.8 1085.7 1497.4 1066.3 1493 1049.7C1488.6 1033.1 1479.8 1012.2 1475 1000C1470.2 987.8 1469.6 989.4 1464.5 976.5C1459.4 963.6 1450.1 939.1 1444.5 922.4C1438.9 905.6 1434.4 890.2 1431 876C1427.6 861.8 1424.8 850 1424.3 837.3C1423.8 824.6 1426.5 808 1427.8 800C1429.1 792 1430.3 792.7 1432 789C1433.7 785.3 1438.2 780.5 1438 778C1437.8 775.5 1434.1 776.8 1430.5 774C1426.9 771.2 1419.8 766.9 1416.6 761C1413.4 755.1 1411.8 747.2 1411.6 738.5C1411.4 729.8 1412.5 718.7 1415.4 708.7C1418.3 698.8 1424.2 687.9 1429 678.8C1433.8 669.7 1441.1 660.5 1444 654C1446.9 647.5 1446.2 643.8 1446.5 640C1446.8 636.2 1446.6 634.1 1445.5 631C1444.4 627.9 1443.2 624.8 1440 621.6C1436.8 618.4 1432.4 614.4 1426.6 611.6C1420.8 608.8 1411.6 606.6 1405 605C1398.4 603.4 1394.3 602.5 1386.8 602C1379.3 601.5 1368.3 601.9 1360 602Z" fill="none" stroke="#fac3b3" stroke-width="54"/>
<path d="M1360 602C1351.7 602.1 1343.7 602.2 1337 602.5C1330.3 602.8 1325.8 602.9 1320 604C1314.2 605.1 1307.5 606.9 1302 609C1296.5 611.1 1290.7 614.3 1287 616.5C1283.3 618.7 1281.8 619.6 1279.8 622C1277.8 624.4 1275.8 628 1274.8 631C1273.8 634 1273.5 636.2 1274 640C1274.5 643.8 1274.8 647.5 1277.5 654C1280.2 660.5 1286.1 669.7 1290 678.8C1293.9 687.9 1298.5 698.8 1301 708.7C1303.5 718.7 1305 729.8 1305 738.5C1305 747.2 1303.3 755.4 1301 761C1298.7 766.6 1294 769.3 1291 772C1288 774.7 1283.5 774.3 1283 777C1282.5 779.7 1286.2 784.2 1288 788C1289.8 791.8 1292.2 791.8 1293.5 800C1294.8 808.2 1296.2 824.3 1296 837C1295.8 849.7 1294.9 861.8 1292 876C1289.1 890.2 1284.4 905.6 1278.6 922.4C1272.8 939.1 1264.7 958.5 1257.3 976.5C1249.9 994.5 1240.1 1013.8 1234 1030.6C1227.9 1047.3 1223.1 1062.2 1220.6 1077C1218 1091.8 1218 1105.3 1218.7 1119.5C1219.4 1133.7 1220.7 1148.5 1224.5 1162C1228.3 1175.5 1233.8 1188.5 1241.8 1200.7C1249.8 1213 1261.2 1225.8 1272.8 1235.5C1284.4 1245.2 1297.9 1253.5 1311.4 1258.7C1324.9 1264 1339.8 1266.4 1354 1267C1368.2 1267.6 1381 1267 1396.5 1262.5C1412 1258 1434.5 1247.8 1447 1240C1459.5 1232.2 1464.8 1223.8 1471.3 1215.6C1477.8 1207.4 1481.9 1199 1486.2 1190.7C1490.5 1182.4 1494.5 1175.5 1497 1165.8C1499.5 1156.1 1500.5 1143.8 1501.2 1132.7C1501.9 1121.7 1502.6 1113.3 1501.2 1099.5C1499.8 1085.7 1497.4 1066.3 1493 1049.7C1488.6 1033.1 1479.8 1012.2 1475 1000C1470.2 987.8 1469.6 989.4 1464.5 976.5C1459.4 963.6 1450.1 939.1 1444.5 922.4C1438.9 905.6 1434.4 890.2 1431 876C1427.6 861.8 1424.8 850 1424.3 837.3C1423.8 824.6 1426.5 808 1427.8 800C1429.1 792 1430.3 792.7 1432 789C1433.7 785.3 1438.2 780.5 1438 778C1437.8 775.5 1434.1 776.8 1430.5 774C1426.9 771.2 1419.8 766.9 1416.6 761C1413.4 755.1 1411.8 747.2 1411.6 738.5C1411.4 729.8 1412.5 718.7 1415.4 708.7C1418.3 698.8 1424.2 687.9 1429 678.8C1433.8 669.7 1441.1 660.5 1444 654C1446.9 647.5 1446.2 643.8 1446.5 640C1446.8 636.2 1446.6 634.1 1445.5 631C1444.4 627.9 1443.2 624.8 1440 621.6C1436.8 618.4 1432.4 614.4 1426.6 611.6C1420.8 608.8 1411.6 606.6 1405 605C1398.4 603.4 1394.3 602.5 1386.8 602C1379.3 601.5 1368.3 601.9 1360 602Z" fill="none" stroke="#f6a896" stroke-width="38"/>
</g>
<path d="M1185 1192C1187.8 1193.1 1196.7 1198.1 1201.7 1198.4C1206.7 1198.7 1211 1196.4 1215 1194C1219 1191.6 1224.2 1185.7 1226 1184" fill="none" stroke="#e8644f" stroke-width="3.2" stroke-linecap="round"/>
<path d="M1494 1181C1495.3 1183.5 1498.6 1192.5 1502 1196C1505.4 1199.5 1509.5 1201.6 1514.5 1202C1519.5 1202.4 1529.1 1199.1 1532 1198.5" fill="none" stroke="#e8644f" stroke-width="3.2" stroke-linecap="round"/>
<path d="M1201.7 1198.4C1203.6 1202.2 1208.6 1213.7 1213 1221C1217.4 1228.3 1222.7 1235.5 1228 1242C1233.3 1248.5 1238.3 1253.8 1245 1260C1251.7 1266.2 1257.9 1273.2 1268 1279C1278.1 1284.8 1290.8 1290.8 1305.8 1294.6C1320.8 1298.4 1340.5 1301.8 1358 1302C1375.5 1302.2 1394.8 1299.4 1410.6 1295.6C1426.3 1291.8 1441.3 1284.9 1452.5 1279C1463.7 1273.1 1470.5 1267.2 1477.7 1260C1485 1252.8 1491.1 1243 1496 1236C1500.9 1229 1503.9 1223.7 1507 1218C1510.1 1212.3 1513.2 1204.7 1514.5 1202" fill="none" stroke="#e0714f" stroke-width="3" stroke-linecap="round"/>
<path d="M1360 602C1351.7 602.1 1343.7 602.2 1337 602.5C1330.3 602.8 1325.8 602.9 1320 604C1314.2 605.1 1307.5 606.9 1302 609C1296.5 611.1 1290.7 614.3 1287 616.5C1283.3 618.7 1281.8 619.6 1279.8 622C1277.8 624.4 1275.8 628 1274.8 631C1273.8 634 1273.5 636.2 1274 640C1274.5 643.8 1274.8 647.5 1277.5 654C1280.2 660.5 1286.1 669.7 1290 678.8C1293.9 687.9 1298.5 698.8 1301 708.7C1303.5 718.7 1305 729.8 1305 738.5C1305 747.2 1303.3 755.4 1301 761C1298.7 766.6 1294 769.3 1291 772C1288 774.7 1283.5 774.3 1283 777C1282.5 779.7 1286.2 784.2 1288 788C1289.8 791.8 1292.2 791.8 1293.5 800C1294.8 808.2 1296.2 824.3 1296 837C1295.8 849.7 1294.9 861.8 1292 876C1289.1 890.2 1284.4 905.6 1278.6 922.4C1272.8 939.1 1264.7 958.5 1257.3 976.5C1249.9 994.5 1240.1 1013.8 1234 1030.6C1227.9 1047.3 1223.1 1062.2 1220.6 1077C1218 1091.8 1218 1105.3 1218.7 1119.5C1219.4 1133.7 1220.7 1148.5 1224.5 1162C1228.3 1175.5 1233.8 1188.5 1241.8 1200.7C1249.8 1213 1261.2 1225.8 1272.8 1235.5C1284.4 1245.2 1297.9 1253.5 1311.4 1258.7C1324.9 1264 1339.8 1266.4 1354 1267C1368.2 1267.6 1381 1267 1396.5 1262.5C1412 1258 1434.5 1247.8 1447 1240C1459.5 1232.2 1464.8 1223.8 1471.3 1215.6C1477.8 1207.4 1481.9 1199 1486.2 1190.7C1490.5 1182.4 1494.5 1175.5 1497 1165.8C1499.5 1156.1 1500.5 1143.8 1501.2 1132.7C1501.9 1121.7 1502.6 1113.3 1501.2 1099.5C1499.8 1085.7 1497.4 1066.3 1493 1049.7C1488.6 1033.1 1479.8 1012.2 1475 1000C1470.2 987.8 1469.6 989.4 1464.5 976.5C1459.4 963.6 1450.1 939.1 1444.5 922.4C1438.9 905.6 1434.4 890.2 1431 876C1427.6 861.8 1424.8 850 1424.3 837.3C1423.8 824.6 1426.5 808 1427.8 800C1429.1 792 1430.3 792.7 1432 789C1433.7 785.3 1438.2 780.5 1438 778C1437.8 775.5 1434.1 776.8 1430.5 774C1426.9 771.2 1419.8 766.9 1416.6 761C1413.4 755.1 1411.8 747.2 1411.6 738.5C1411.4 729.8 1412.5 718.7 1415.4 708.7C1418.3 698.8 1424.2 687.9 1429 678.8C1433.8 669.7 1441.1 660.5 1444 654C1446.9 647.5 1446.2 643.8 1446.5 640C1446.8 636.2 1446.6 634.1 1445.5 631C1444.4 627.9 1443.2 624.8 1440 621.6C1436.8 618.4 1432.4 614.4 1426.6 611.6C1420.8 608.8 1411.6 606.6 1405 605C1398.4 603.4 1394.3 602.5 1386.8 602C1379.3 601.5 1368.3 601.9 1360 602Z" fill="url(#gSheath)" stroke="#2b313a" stroke-width="3" stroke-linejoin="round"/>
<path d="M1472 140C1470.1 142.7 1470.1 144.2 1466.9 150C1463.7 155.8 1457.4 166.7 1453 175C1448.6 183.3 1446.3 187.5 1440.4 200C1434.5 212.5 1424.6 233.3 1417.6 250C1410.6 266.7 1404.1 283.3 1398.2 300C1392.3 316.7 1386.9 333.3 1382.1 350C1377.2 366.7 1373 383.3 1369.1 400C1365.2 416.7 1361.8 433.3 1358.8 450C1355.8 466.7 1353.2 483.3 1350.9 500C1348.6 516.7 1346.7 533.3 1345 550C1343.3 566.7 1341.9 583.3 1340.6 600C1339.3 616.7 1338.3 633.3 1337.3 650C1336.3 666.7 1335.5 683.3 1334.7 700C1333.9 716.7 1333.2 733.3 1332.4 750C1331.6 766.7 1331.5 782.2 1329.9 800C1328.3 817.8 1326.1 837.5 1323 856.6C1319.9 875.7 1316.6 895.9 1311.4 914.6C1306.2 933.3 1299.1 950.7 1292 968.7C1284.9 986.7 1275.4 1006 1269 1022.8C1262.6 1039.5 1256.6 1053.7 1253.4 1069.2C1250.2 1084.7 1249.3 1100.8 1249.6 1115.6C1249.9 1130.4 1251 1144.1 1255.4 1158C1259.8 1171.9 1268.3 1188.3 1276.2 1199C1284.1 1209.7 1292.2 1215.9 1302.8 1222C1313.4 1228.1 1328.8 1233.1 1340 1235.5C1351.2 1237.9 1360 1238 1370 1236.5C1380 1235 1390 1230.8 1400 1226.5C1410 1222.2 1421.9 1216.6 1429.9 1210.6C1437.9 1204.6 1442.8 1198.2 1448 1190.7C1453.2 1183.2 1458.2 1175.5 1461.4 1165.8C1464.6 1156.1 1466.1 1143.8 1467.2 1132.7C1468.3 1121.7 1469 1113.3 1468 1099.5C1467 1085.7 1466.3 1066.3 1461.4 1049.7C1456.5 1033.1 1443.7 1012.2 1438.5 1000C1433.3 987.8 1434.2 990.7 1430 976.5C1425.8 962.3 1418.5 934.6 1413.5 914.6C1408.5 894.6 1404.5 875.7 1400.3 856.6C1396 837.5 1391 817.8 1388 800C1385 782.2 1383.8 766.7 1382.5 750C1381.2 733.3 1380.5 716.7 1380 700C1379.5 683.3 1379.5 666.7 1379.8 650C1380.1 633.3 1380.8 616.7 1381.7 600C1382.7 583.3 1383.9 566.7 1385.5 550C1387.1 533.3 1389.1 516.7 1391.4 500C1393.7 483.3 1396.3 466.7 1399.3 450C1402.3 433.3 1405.8 416.7 1409.6 400C1413.4 383.3 1417.7 366.7 1422.4 350C1427.2 333.3 1432.3 316.7 1438.1 300C1443.8 283.3 1450.1 266.7 1456.9 250C1463.7 233.3 1473.2 212.5 1479 200C1484.8 187.5 1487.7 182 1491.5 175C1495.3 168 1499.8 162.3 1502 158C1504.2 153.7 1504.5 152.2 1504.5 149.3C1504.5 146.4 1503.7 143.1 1502.3 140.5C1500.9 137.9 1498.5 135.5 1496 134C1493.5 132.5 1490.2 131.6 1487.3 131.5C1484.4 131.4 1481 132.3 1478.5 133.7C1476 135.1 1473.9 137.3 1472 140Z" fill="url(#gHair)"/>
<g clip-path="url(#clipInner)"><ellipse cx="1359" cy="1116" rx="112" ry="122" fill="url(#gBulb)"/><path d="M1249 1100 A110 122 0 0 1 1469 1100" fill="none" stroke="#e07468" stroke-width="3" opacity="0.6"/></g>
<path d="M1472 140C1470.1 142.7 1470.1 144.2 1466.9 150C1463.7 155.8 1457.4 166.7 1453 175C1448.6 183.3 1446.3 187.5 1440.4 200C1434.5 212.5 1424.6 233.3 1417.6 250C1410.6 266.7 1404.1 283.3 1398.2 300C1392.3 316.7 1386.9 333.3 1382.1 350C1377.2 366.7 1373 383.3 1369.1 400C1365.2 416.7 1361.8 433.3 1358.8 450C1355.8 466.7 1353.2 483.3 1350.9 500C1348.6 516.7 1346.7 533.3 1345 550C1343.3 566.7 1341.9 583.3 1340.6 600C1339.3 616.7 1338.3 633.3 1337.3 650C1336.3 666.7 1335.5 683.3 1334.7 700C1333.9 716.7 1333.2 733.3 1332.4 750C1331.6 766.7 1331.5 782.2 1329.9 800C1328.3 817.8 1326.1 837.5 1323 856.6C1319.9 875.7 1316.6 895.9 1311.4 914.6C1306.2 933.3 1299.1 950.7 1292 968.7C1284.9 986.7 1275.4 1006 1269 1022.8C1262.6 1039.5 1256.6 1053.7 1253.4 1069.2C1250.2 1084.7 1249.3 1100.8 1249.6 1115.6C1249.9 1130.4 1251 1144.1 1255.4 1158C1259.8 1171.9 1268.3 1188.3 1276.2 1199C1284.1 1209.7 1292.2 1215.9 1302.8 1222C1313.4 1228.1 1328.8 1233.1 1340 1235.5C1351.2 1237.9 1360 1238 1370 1236.5C1380 1235 1390 1230.8 1400 1226.5C1410 1222.2 1421.9 1216.6 1429.9 1210.6C1437.9 1204.6 1442.8 1198.2 1448 1190.7C1453.2 1183.2 1458.2 1175.5 1461.4 1165.8C1464.6 1156.1 1466.1 1143.8 1467.2 1132.7C1468.3 1121.7 1469 1113.3 1468 1099.5C1467 1085.7 1466.3 1066.3 1461.4 1049.7C1456.5 1033.1 1443.7 1012.2 1438.5 1000C1433.3 987.8 1434.2 990.7 1430 976.5C1425.8 962.3 1418.5 934.6 1413.5 914.6C1408.5 894.6 1404.5 875.7 1400.3 856.6C1396 837.5 1391 817.8 1388 800C1385 782.2 1383.8 766.7 1382.5 750C1381.2 733.3 1380.5 716.7 1380 700C1379.5 683.3 1379.5 666.7 1379.8 650C1380.1 633.3 1380.8 616.7 1381.7 600C1382.7 583.3 1383.9 566.7 1385.5 550C1387.1 533.3 1389.1 516.7 1391.4 500C1393.7 483.3 1396.3 466.7 1399.3 450C1402.3 433.3 1405.8 416.7 1409.6 400C1413.4 383.3 1417.7 366.7 1422.4 350C1427.2 333.3 1432.3 316.7 1438.1 300C1443.8 283.3 1450.1 266.7 1456.9 250C1463.7 233.3 1473.2 212.5 1479 200C1484.8 187.5 1487.7 182 1491.5 175C1495.3 168 1499.8 162.3 1502 158C1504.2 153.7 1504.5 152.2 1504.5 149.3C1504.5 146.4 1503.7 143.1 1502.3 140.5C1500.9 137.9 1498.5 135.5 1496 134C1493.5 132.5 1490.2 131.6 1487.3 131.5C1484.4 131.4 1481 132.3 1478.5 133.7C1476 135.1 1473.9 137.3 1472 140Z" fill="none" stroke="#2b313a" stroke-width="2.9" stroke-linejoin="round"/>
<path d="M1380 700C1380 691.7 1379.5 666.7 1379.8 650C1380.1 633.3 1380.8 616.7 1381.7 600C1382.7 583.3 1383.9 566.7 1385.5 550C1387.1 533.3 1389.1 516.7 1391.4 500C1393.7 483.3 1396.3 466.7 1399.3 450C1402.3 433.3 1405.8 416.7 1409.6 400C1413.4 383.3 1417.7 366.7 1422.4 350C1427.2 333.3 1432.3 316.7 1438.1 300C1443.8 283.3 1450.1 266.7 1456.9 250C1463.7 233.3 1473.2 212.5 1479 200C1484.8 187.5 1487.7 182 1491.5 175C1495.3 168 1499.8 162.3 1502 158C1504.2 153.7 1504.5 152.2 1504.5 149.3C1504.5 146.4 1503.7 143.1 1502.3 140.5C1500.9 137.9 1498.5 135.5 1496 134C1493.5 132.5 1490.2 131.6 1487.3 131.5C1484.4 131.4 1481 132.3 1478.5 133.7C1476 135.1 1473.9 137.3 1472 140C1470.1 142.7 1470.1 144.2 1466.9 150C1463.7 155.8 1457.4 166.7 1453 175C1448.6 183.3 1446.3 187.5 1440.4 200C1434.5 212.5 1424.6 233.3 1417.6 250C1410.6 266.7 1404.1 283.3 1398.2 300C1392.3 316.7 1386.9 333.3 1382.1 350C1377.2 366.7 1373 383.3 1369.1 400C1365.2 416.7 1361.8 433.3 1358.8 450C1355.8 466.7 1353.2 483.3 1350.9 500C1348.6 516.7 1346.7 533.3 1345 550C1343.3 566.7 1341.9 583.3 1340.6 600C1339.3 616.7 1338.3 633.3 1337.3 650C1336.3 666.7 1335.1 691.7 1334.7 700" fill="none" stroke="#2b313a" stroke-width="3.8" stroke-linejoin="round" stroke-linecap="round"/>
<circle cx="1361.7" cy="1030.6" r="19.3" fill="url(#gDot)" stroke="#b5222b" stroke-width="2.4"/>
<circle cx="1354.9" cy="1023.3" r="3.9" fill="#f27a78" opacity="0.8"/>
<circle cx="1305.6" cy="1075" r="23" fill="url(#gDot)" stroke="#b5222b" stroke-width="2.4"/>
<circle cx="1297.5" cy="1066.3" r="4.6" fill="#f27a78" opacity="0.8"/>
<circle cx="1413" cy="1069" r="18" fill="url(#gDot)" stroke="#b5222b" stroke-width="2.4"/>
<circle cx="1406.7" cy="1062.2" r="3.6" fill="#f27a78" opacity="0.8"/>
<circle cx="1361.7" cy="1114.8" r="23" fill="url(#gDot)" stroke="#b5222b" stroke-width="2.4"/>
<circle cx="1353.7" cy="1106.1" r="4.6" fill="#f27a78" opacity="0.8"/>
<circle cx="1285.5" cy="1131.9" r="14.7" fill="url(#gDot)" stroke="#b5222b" stroke-width="2.4"/>
<circle cx="1280.4" cy="1126.3" r="2.9" fill="#f27a78" opacity="0.8"/>
<circle cx="1429.3" cy="1135" r="17.4" fill="url(#gDot)" stroke="#b5222b" stroke-width="2.4"/>
<circle cx="1423.2" cy="1128.4" r="3.5" fill="#f27a78" opacity="0.8"/>
<circle cx="1323.8" cy="1174.4" r="15.5" fill="url(#gDot)" stroke="#b5222b" stroke-width="2.4"/>
<circle cx="1318.4" cy="1168.5" r="3.1" fill="#f27a78" opacity="0.8"/>
<circle cx="1408" cy="1172.8" r="12.4" fill="url(#gDot)" stroke="#b5222b" stroke-width="2.4"/>
<circle cx="1403.7" cy="1168.1" r="2.5" fill="#f27a78" opacity="0.8"/>
<circle cx="1370" cy="1199.5" r="14.3" fill="url(#gDot)" stroke="#b5222b" stroke-width="2.4"/>
<circle cx="1365" cy="1194.1" r="2.9" fill="#f27a78" opacity="0.8"/>
<line x1="834" y1="413.4" x2="1185" y2="619.6" stroke="#050506" stroke-width="4.7" stroke-linecap="round"/>
<path d="M1208 635.2 L1150.4 630.5 L1171.7 612.5 L1175.2 586.5 Z" fill="#050506"/>
<g font-family="'Liberation Sans', Arial, Helvetica, sans-serif" fill="#050506" stroke="#050506" stroke-linejoin="round">
<text stroke-width="3.0"><tspan x="140" y="261.2" font-size="100" letter-spacing="-0.99">Heavy</tspan> <tspan x="448.8" y="261.2" font-size="100" letter-spacing="1.32">formulas</tspan> <tspan x="867.7" y="261.2" font-size="100" letter-spacing="2.25">can</tspan></text>
<text stroke-width="3.0"><tspan x="142" y="362.7" font-size="100" letter-spacing="2.76">block</tspan> <tspan x="420.5" y="362.7" font-size="100" letter-spacing="1.79">sweat</tspan> <tspan x="718.2" y="362.7" font-size="100" letter-spacing="3.92">ducts.</tspan></text>
</g>
<path d="M208 853.9 L1070.6 853.9 C1115.9 853.9 1152.6 890.6 1152.6 935.9 L1152.6 1347.2 C1152.6 1391.4 1116.8 1427.2 1072.6 1427.2 L212 1427.2 C170 1427.2 136 1393.2 136 1351.2 L136 925.9 C136 886.1 168.2 853.9 208 853.9 Z" fill="#fffefd" stroke="#15181d" stroke-width="4.2"/>
<g stroke="#33383f" stroke-width="2.8" stroke-linejoin="round" stroke-linecap="round">
<path d="M225.5 944 L459.5 944 L427.5 1268 Q426.5 1280 414 1281.5 Q343 1289 272 1281.5 Q259.5 1280 258.5 1268 Z" fill="url(#gTube)"/>
<path d="M243.5 1102 C262 1092 280 1088 298 1089.5 C330 1092 350 1104 381 1102 C405 1100 425 1094 442.5 1090.5 L427.5 1268 Q426.5 1280 414 1281.5 Q343 1289 272 1281.5 Q259.5 1280 258.5 1268 Z" fill="#cfe6f8" stroke="#4b5a6b" stroke-width="2.6"/>
<path d="M225.5 944 L258.5 1268 Q259.5 1280 272 1281.5 Q343 1289 414 1281.5 Q426.5 1280 427.5 1268 L459.5 944" fill="none"/>
<rect x="223.5" y="912.5" width="239" height="32" rx="8" ry="8" fill="#ffffff"/>
<line x1="239.8" y1="917.5" x2="239.8" y2="941" stroke-width="2.4" stroke="#555b66"/>
<line x1="259" y1="917.5" x2="259" y2="941" stroke-width="2.4" stroke="#555b66"/>
<line x1="277.6" y1="917.5" x2="277.6" y2="941" stroke-width="2.4" stroke="#555b66"/>
<line x1="296.4" y1="917.5" x2="296.4" y2="941" stroke-width="2.4" stroke="#555b66"/>
<line x1="315.7" y1="917.5" x2="315.7" y2="941" stroke-width="2.4" stroke="#555b66"/>
<line x1="334.8" y1="917.5" x2="334.8" y2="941" stroke-width="2.4" stroke="#555b66"/>
<line x1="354" y1="917.5" x2="354" y2="941" stroke-width="2.4" stroke="#555b66"/>
<line x1="373" y1="917.5" x2="373" y2="941" stroke-width="2.4" stroke="#555b66"/>
<line x1="391.7" y1="917.5" x2="391.7" y2="941" stroke-width="2.4" stroke="#555b66"/>
<line x1="410.5" y1="917.5" x2="410.5" y2="941" stroke-width="2.4" stroke="#555b66"/>
<line x1="428.7" y1="917.5" x2="428.7" y2="941" stroke-width="2.4" stroke="#555b66"/>
<line x1="447" y1="917.5" x2="447" y2="941" stroke-width="2.4" stroke="#555b66"/>
<path d="M267.5 1280 Q343 1288 417.5 1280 L417.5 1352 Q417 1362 405 1365.5 Q343 1379 280 1365.5 Q268 1362 267.5 1352 Z" fill="#f8fafc"/>
<path d="M311.6 1345 L311.6 1338 A30.7 22.5 0 0 1 373 1338 L373 1345 Z" fill="#e4ecf5"/>
<path d="M267.5 1340.5 Q343 1351 417.5 1340.5" fill="none"/>
</g>
<circle cx="294.5" cy="1131.2" r="16" fill="#dcedfa" stroke="#5a6878" stroke-width="2.2"/>
<circle cx="298.5" cy="1126.4" r="5.1" fill="#f4faff" opacity="0.9"/>
<circle cx="362.8" cy="1148.7" r="17" fill="#dcedfa" stroke="#5a6878" stroke-width="2.2"/>
<circle cx="367.1" cy="1143.6" r="5.4" fill="#f4faff" opacity="0.9"/>
<circle cx="413.4" cy="1132.3" r="10" fill="#dcedfa" stroke="#5a6878" stroke-width="2.2"/>
<circle cx="415.9" cy="1129.3" r="3.2" fill="#f4faff" opacity="0.9"/>
<circle cx="328.6" cy="1184" r="10.6" fill="#dcedfa" stroke="#5a6878" stroke-width="2.2"/>
<circle cx="331.2" cy="1180.8" r="3.4" fill="#f4faff" opacity="0.9"/>
<circle cx="398.5" cy="1189" r="17.5" fill="#dcedfa" stroke="#5a6878" stroke-width="2.2"/>
<circle cx="402.9" cy="1183.8" r="5.6" fill="#f4faff" opacity="0.9"/>
<circle cx="281" cy="1199" r="15" fill="#dcedfa" stroke="#5a6878" stroke-width="2.2"/>
<circle cx="284.8" cy="1194.5" r="4.8" fill="#f4faff" opacity="0.9"/>
<circle cx="351" cy="1218.5" r="8.5" fill="#dcedfa" stroke="#5a6878" stroke-width="2.2"/>
<circle cx="353.1" cy="1216" r="2.7" fill="#f4faff" opacity="0.9"/>
<circle cx="303" cy="1222.7" r="7" fill="#dcedfa" stroke="#5a6878" stroke-width="2.2"/>
<circle cx="304.8" cy="1220.6" r="2.2" fill="#f4faff" opacity="0.9"/>
<circle cx="384" cy="1234" r="12.7" fill="#dcedfa" stroke="#5a6878" stroke-width="2.2"/>
<circle cx="387.2" cy="1230.2" r="4.1" fill="#f4faff" opacity="0.9"/>
<circle cx="317" cy="1254.5" r="10" fill="#dcedfa" stroke="#5a6878" stroke-width="2.2"/>
<circle cx="319.5" cy="1251.5" r="3.2" fill="#f4faff" opacity="0.9"/>
<g font-family="'Liberation Sans', Arial, Helvetica, sans-serif" fill="#050506" stroke="#050506" stroke-linejoin="round">
<text stroke-width="0.7"><tspan x="547.4" y="1090.2" font-size="65" letter-spacing="0.23">Choose</tspan></text>
<text stroke-width="0.7"><tspan x="549.9" y="1161.3" font-size="66" letter-spacing="0.14">non-comedogenic,</tspan></text>
<text stroke-width="0.7"><tspan x="550.8" y="1230" font-size="56.5" letter-spacing="0.50">breathable</tspan> <tspan x="838.7" y="1230" font-size="56.5" letter-spacing="-0.86">sunscreens.</tspan></text>
</g>
</svg>
</body>
</html>
